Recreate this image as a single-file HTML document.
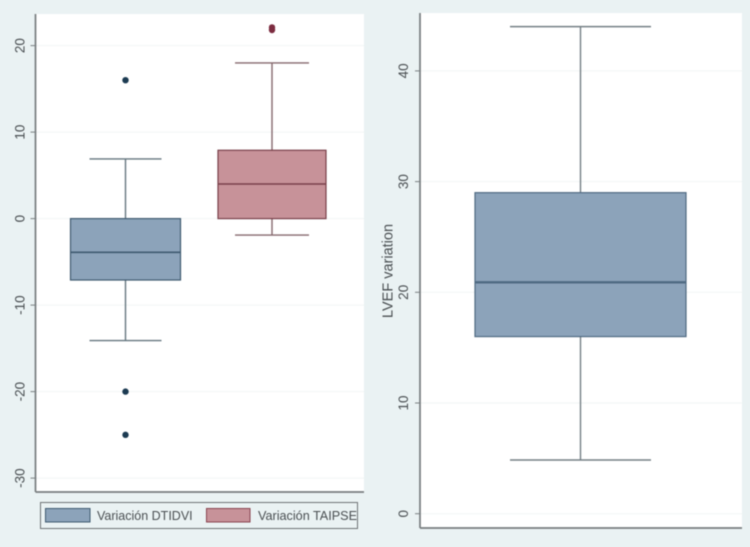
<!DOCTYPE html>
<html lang="es">
<head>
<meta charset="utf-8">
<title>Variación boxplots</title>
<style>
html,body{margin:0;padding:0;background:#eaf2f3;width:750px;height:547px;overflow:hidden}
svg{display:block;filter:blur(.5px)}
text{font-family:"Liberation Sans",sans-serif;fill:#4a4f52}
</style>
</head>
<body>
<svg id="chart" width="750" height="547" viewBox="0 0 750 547" xmlns="http://www.w3.org/2000/svg">
<rect x="0" y="0" width="750" height="547" fill="#eaf2f3"/>
<rect x="36" y="14" width="328" height="478" fill="#ffffff"/>
<rect x="420" y="13" width="322" height="515" fill="#ffffff"/>
<g id="left-panel"></g>
<g id="right-panel"></g>
<g>
<rect x="40.5" y="502.5" width="317" height="26" fill="#eaf2f3" stroke="#6f7476" stroke-width="1"/>
<rect x="45.5" y="508.5" width="44.5" height="13.5" fill="#8ca3ba" stroke="#3f5a70" stroke-width="1"/>
<text x="97" y="520" font-size="12.5">Variación DTIDVI</text>
<rect x="206.5" y="508.5" width="43.5" height="13.5" fill="#c79299" stroke="#8a4450" stroke-width="1"/>
<text x="258" y="520" font-size="12.5" textLength="99" lengthAdjust="spacingAndGlyphs">Variación TAIPSE</text>
</g>
</svg>
<script>
const leftTicks = [20, 10, 0, -10, -20, -30];
const rightTicks = [40, 30, 20, 10, 0];
const dtidviBox = [-14.1, -7.1, -3.9, 0, 6.9];
const dtidviOutliers = [16, -20, -25];
const taipseBox = [-1.9, 0, 4, 7.9, 18];
const taipseOutliers = [22.1, 21.8];
const lvefBox = [4.85, 16, 20.9, 29, 44];
const lvefOutliers = [];

const NS = 'http://www.w3.org/2000/svg';
function yLeft(v) { return 218.6 - 8.65 * v; }
function yRight(v) { return 513.7 - 11.07 * v; }

function make(parent, tag, attrs, text) {
  const el = document.createElementNS(NS, tag);
  for (const k in attrs) el.setAttribute(k, attrs[k]);
  if (text !== undefined) el.textContent = text;
  parent.appendChild(el);
  return el;
}

function drawAxis(parent, ticks, yFn, axisX, yTop, yBottom, plotRight, labelX, prefix) {
  ticks.forEach(function (t) {
    const y = yFn(t);
    const grid = make(parent, 'line', { x1: axisX, x2: plotRight, y1: y, y2: y, stroke: '#f1f5f5', 'stroke-width': 1 });
    
    
    const tick = make(parent, 'line', { x1: axisX - 5, x2: axisX, y1: y, y2: y, stroke: '#7b8082', 'stroke-width': 1 });
    
    
    const label = make(parent, 'text', { x: labelX, y: y, 'font-size': 13.5, 'text-anchor': 'middle', transform: 'rotate(-90 ' + labelX + ' ' + y + ')' }, String(t));
    
    
  });
  const yAxis = make(parent, 'line', { x1: axisX, x2: axisX, y1: yTop, y2: yBottom, stroke: '#777c7e', 'stroke-width': 1.7 });
  
  
  const xAxis = make(parent, 'line', { x1: axisX, x2: plotRight, y1: yBottom, y2: yBottom, stroke: '#777c7e', 'stroke-width': 1.7 });
  
  
}

function drawBox(parent, stats, outliers, yFn, cx, boxHalf, capHalf, fill, edge, whisker, dot, medianWidth, prefix) {
  const low = stats[0], q1 = stats[1], med = stats[2], q3 = stats[3], high = stats[4];
  const upper = make(parent, 'line', { x1: cx, x2: cx, y1: yFn(q3), y2: yFn(high), stroke: whisker, 'stroke-width': 1.4 });
  
  
  const lower = make(parent, 'line', { x1: cx, x2: cx, y1: yFn(q1), y2: yFn(low), stroke: whisker, 'stroke-width': 1.4 });
  
  
  const capTop = make(parent, 'line', { x1: cx - capHalf, x2: cx + capHalf, y1: yFn(high), y2: yFn(high), stroke: whisker, 'stroke-width': 1.4 });
  
  
  const capBottom = make(parent, 'line', { x1: cx - capHalf, x2: cx + capHalf, y1: yFn(low), y2: yFn(low), stroke: whisker, 'stroke-width': 1.4 });
  
  
  const box = make(parent, 'rect', { x: cx - boxHalf, y: yFn(q3), width: boxHalf * 2, height: yFn(q1) - yFn(q3), fill: fill, stroke: edge, 'stroke-width': 1.2 });
  
  
  const median = make(parent, 'line', { x1: cx - boxHalf, x2: cx + boxHalf, y1: yFn(med), y2: yFn(med), stroke: edge, 'stroke-width': medianWidth });
  
  
  outliers.forEach(function (v) {
    const point = make(parent, 'circle', { cx: cx, cy: yFn(v), r: 3.2, fill: dot });
    
    
  });
}

const leftPanel = document.getElementById('left-panel');
const rightPanel = document.getElementById('right-panel');

drawAxis(leftPanel, leftTicks, yLeft, 35.5, 14, 492, 364, 24.5, 'left');
drawBox(leftPanel, dtidviBox, dtidviOutliers, yLeft, 125.5, 55, 36, '#8ca3ba', '#3f5a70', '#65767f', '#1c3b52', 1.6, 'dtidvi');
drawBox(leftPanel, taipseBox, taipseOutliers, yLeft, 272, 54, 37, '#c79299', '#79404a', '#86696e', '#7c2c40', 1.6, 'taipse');

drawAxis(rightPanel, rightTicks, yRight, 420, 13, 528, 742, 408, 'right');
drawBox(rightPanel, lvefBox, lvefOutliers, yRight, 580.5, 105.5, 70.5, '#8ca3ba', '#4f6a82', '#747f85', '#1c3b52', 2.4, 'lvef');

const yTitle = make(rightPanel, 'text', { x: 392.5, y: 271, 'font-size': 14.5, 'text-anchor': 'middle', transform: 'rotate(-90 392.5 271)' }, 'LVEF variation');


</script>
</body>
</html>
